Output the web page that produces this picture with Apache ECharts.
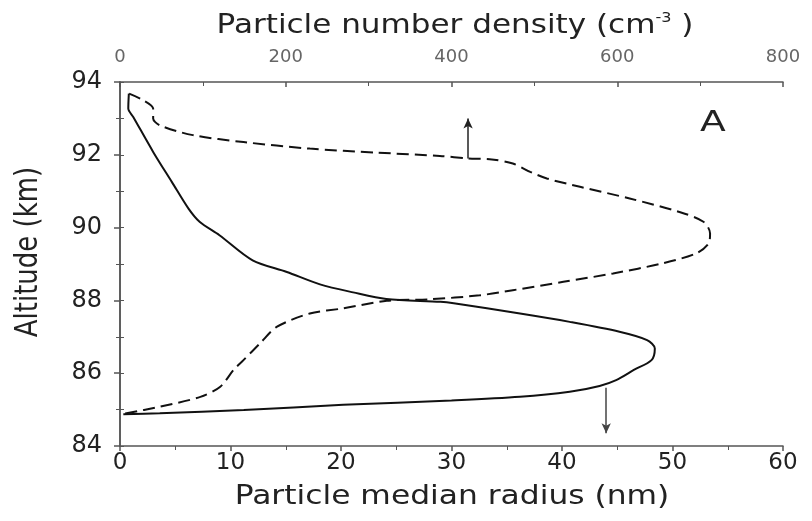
<!DOCTYPE html>
<html><head><meta charset="utf-8">
<script src="https://cdn.jsdelivr.net/npm/echarts@6/dist/echarts.min.js"></script>
<style>html,body{margin:0;padding:0;background:#fff}#c{width:812px;height:521px}</style>
</head><body><div id="c"></div>
<script>
// Particle median radius (nm) vs altitude (km) — solid, bottom axis
const radiusAlt = [93.68, 93.27, 93.04, 92.08, 91.25, 90.52, 90.16, 89.79, 89.1, 88.78, 88.44, 88.22, 88.04, 87.96, 87.92, 87.64, 87.41, 87.14, 86.91, 86.68, 86.36, 86.09, 85.81, 85.65, 85.49, 85.35, 85.25, 85.13, 84.99, 84.9, 84.87];
const radiusVal = [0.8, 0.75, 1.2, 3.0, 4.7, 6.2, 7.2, 9.0, 12.0, 15.1, 18.1, 21.1, 24.1, 29.0, 30.2, 36.2, 40.7, 45.2, 47.7, 48.4, 48.1, 46.5, 44.9, 43.4, 40.7, 36.2, 30.0, 20.2, 11.2, 3.6, 0.3];
// Particle number density (cm^-3) vs altitude (km) — dashed, top axis
const densAlt = [93.68, 93.5, 93.27, 93.0, 92.81, 92.54, 92.35, 92.17, 92.06, 91.97, 91.9, 91.88, 91.76, 91.53, 91.35, 91.12, 90.8, 90.43, 90.16, 89.84, 89.56, 89.29, 89.02, 88.74, 88.51, 88.28, 88.14, 88.03, 87.99, 87.78, 87.64, 87.27, 86.82, 86.36, 86.09, 85.63, 85.35, 85.08, 84.88];
const densVal = [11, 28, 40, 40, 48, 88, 149, 229, 310, 386, 420, 446, 474, 495, 515, 555, 615, 675, 704, 712, 710, 695, 655, 595, 535, 474, 434, 374, 322, 269, 229, 189, 169, 149, 137, 121, 97, 48, 4];
// axis ticks
const radiusTicks = {min: 0, max: 60, interval: 10};
const densTicks = {min: 0, max: 800, interval: 200};
const altTicks = {min: 84, max: 94, interval: 2};
// arrows pointing to each curve's axis
const densArrow = {x: 420, from: 91.9, to: 93.0};
const radiusArrow = {x: 44, from: 85.6, to: 84.35};
// texts
const panelLabel = 'A';
const bottomTitle = 'Particle median radius (nm)';
const topTitle = '{b|Particle number density (cm}{s|-3}{b| )}';
const leftTitle = 'Altitude (km)';

const chart = echarts.init(document.getElementById('c'));
const axisCol = '#555';
const font = 'DejaVu Sans, sans-serif';
const txt = '#222';
chart.setOption({
  animation: false,
  backgroundColor: '#fff',
  grid: {left: 120, right: 29, top: 82, bottom: 75},
  xAxis: [{
    type: 'value', position: 'bottom', ...radiusTicks,
    axisLine: {show: true, lineStyle: {color: axisCol, width: 1.5}},
    axisTick: {show: true, inside: false, length: 5, lineStyle: {color: axisCol, width: 1.5}},
    minorTick: {show: true, splitNumber: 2, length: 4, lineStyle: {color: axisCol}},
    axisLabel: {fontSize: 23, color: txt, margin: 6, fontFamily: font},
    splitLine: {show: false}
  }, {
    type: 'value', position: 'top', ...densTicks,
    axisLine: {show: true, lineStyle: {color: axisCol, width: 1.5}},
    axisTick: {show: true, inside: true, length: 5, lineStyle: {color: axisCol, width: 1.5}},
    minorTick: {show: true, splitNumber: 2, length: 4, lineStyle: {color: axisCol}},
    axisLabel: {fontSize: 18, color: '#666', margin: 16, fontFamily: font},
    splitLine: {show: false}
  }],
  yAxis: [{
    type: 'value', position: 'left', ...altTicks,
    axisLine: {show: true, lineStyle: {color: axisCol, width: 1.5}},
    axisTick: {show: true, inside: false, length: 6, lineStyle: {color: axisCol, width: 1.5}},
    minorTick: {show: true, splitNumber: 2, length: 4, lineStyle: {color: axisCol}},
    axisLabel: {fontSize: 24, color: txt, margin: 18, fontFamily: font},
    splitLine: {show: false}
  }, {
    type: 'value', position: 'right', min: altTicks.min, max: altTicks.max, interval: 1,
    axisLine: {show: true, lineStyle: {color: axisCol, width: 1.5}},
    axisTick: {show: true, inside: false, length: 4, lineStyle: {color: axisCol, width: 1}},
    axisLabel: {show: false},
    splitLine: {show: false}
  }],
  series: [{
    type: 'line', name: 'radius', xAxisIndex: 0, yAxisIndex: 0,
    data: radiusAlt.map((a, i) => [radiusVal[i], a]),
    showSymbol: false, smooth: 0.3,
    lineStyle: {color: '#111', width: 2},
    markLine: {
      silent: true, symbol: ['none', 'arrow'], symbolSize: [7, 10],
      label: {show: false},
      lineStyle: {color: '#444', width: 1.5, type: 'solid'},
      data: [[{coord: [radiusArrow.x, radiusArrow.from]}, {coord: [radiusArrow.x, radiusArrow.to]}]]
    }
  }, {
    type: 'line', name: 'density', xAxisIndex: 1, yAxisIndex: 0,
    data: densAlt.map((a, i) => [densVal[i], a]),
    showSymbol: false, smooth: 0.3,
    lineStyle: {color: '#111', width: 2, type: [12, 6]},
    markLine: {
      silent: true, symbol: ['none', 'arrow'], symbolSize: [7, 10],
      label: {show: false},
      lineStyle: {color: '#222', width: 1.5, type: 'solid'},
      data: [[{coord: [densArrow.x, densArrow.from]}, {coord: [densArrow.x, densArrow.to]}]]
    }
  }],
  graphic: [{
    type: 'text', x: 713, y: 123, scaleX: 1.3,
    style: {text: panelLabel, fontSize: 29, fill: txt, fontFamily: font, align: 'center', verticalAlign: 'middle'}
  }, {
    type: 'text', x: 452, y: 497, scaleX: 1.16,
    style: {text: bottomTitle, fontSize: 27, fill: txt, fontFamily: font, align: 'center', verticalAlign: 'middle'}
  }, {
    type: 'text', x: 455, y: 26, scaleX: 1.15,
    style: {text: topTitle, fontFamily: font, fill: txt, align: 'center', verticalAlign: 'middle',
      rich: {
        b: {fontSize: 27, fontFamily: font, fill: txt, lineHeight: 30},
        s: {fontSize: 14, fontFamily: font, fill: txt, verticalAlign: 'top', lineHeight: 30}
      }}
  }, {
    type: 'text', x: 29, y: 252, rotation: Math.PI / 2, scaleY: 1.2,
    style: {text: leftTitle, fontSize: 26, fill: txt, fontFamily: font, align: 'center', verticalAlign: 'middle'}
  }]
});
</script></body></html>
